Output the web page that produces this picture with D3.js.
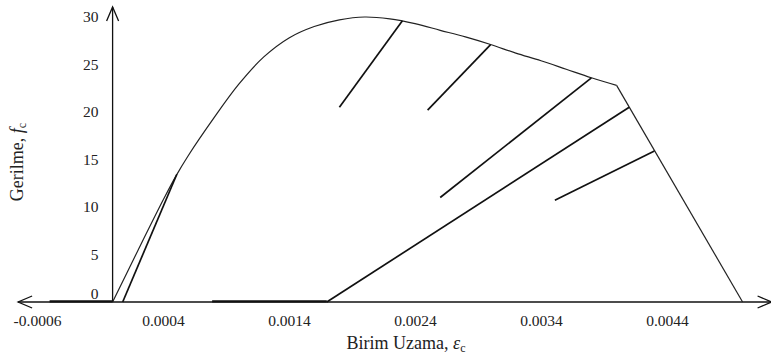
<!DOCTYPE html>
<html>
<head>
<meta charset="utf-8">
<script src="https://cdn.jsdelivr.net/npm/d3@7/dist/d3.min.js"></script>
<style>
  body { margin: 0; background: #fff; }
  svg text { font-family: "Liberation Serif", "Times New Roman", serif; fill: #222; }
</style>
</head>
<body>
<div id="chart"></div>
<script>
// envelope curve (strain, stress)
var envelope = [
    [0, 0], [0.0002, 5.4], [0.0004, 10.7], [0.0005, 13.2], [0.0006, 15.4],
    [0.0008, 19.3], [0.001, 22.9], [0.0012, 25.8], [0.0014, 27.8], [0.0016, 29.0],
    [0.0018, 29.7], [0.002, 30.0], [0.0022, 29.8], [0.0024, 29.3], [0.0026, 28.6],
    [0.0028, 27.9], [0.003, 27.1], [0.0032, 26.2], [0.0034, 25.4], [0.0036, 24.5],
    [0.0038, 23.6], [0.004, 22.8]
];
var descending = [[0.004, 22.8], [0.005, 0]];

// unloading / reloading branches
var branches = [
    [[0.00051, 13.45], [0.00008, 0]],
    [[0.0023, 29.6], [0.0018, 20.5]],
    [[0.003, 27.1], [0.0025, 20.2]],
    [[0.0038, 23.6], [0.0026, 11.0]],
    [[0.0043, 15.9], [0.00351, 10.7]],
    [[0.0017, 0], [0.0041, 20.5]]
];
// segments lying on the zero-stress line (drawn heavier)
var flatSegments = [
    [[-0.0005, 0], [0, 0]],
    [[0.00079, 0], [0.0017, 0]]
];

var xTicks = [-0.0006, 0.0004, 0.0014, 0.0024, 0.0034, 0.0044];
var yTicks = [0, 5, 10, 15, 20, 25, 30];
var xAxisLimits = [-0.00075, 0.00523];
var yAxisTop = 31.05;

var width = 771;
var height = 355;

var svg = d3.select("#chart").append("svg")
    .attr("width", width)
    .attr("height", height);

var x = d3.scaleLinear().domain([-0.0006, 0.0044]).range([37, 667]);
var y = d3.scaleLinear().domain([0, 30]).range([302, 17]);

// axes lines with open arrow heads
svg.append("line")
    .attr("x1", x(xAxisLimits[0])).attr("x2", x(xAxisLimits[1]))
    .attr("y1", y(0)).attr("y2", y(0))
    .attr("stroke", "#111").attr("stroke-width", 1.3);
svg.append("line")
    .attr("x1", x(0)).attr("x2", x(0))
    .attr("y1", y(0)).attr("y2", y(yAxisTop))
    .attr("stroke", "#111").attr("stroke-width", 1.3);

function arrow(tx, ty, dx, dy) {
    // dx, dy: direction of the arm from the tip
    var px = -dy, py = dx;
    return "M" + (tx + dx * 14 + px * 6) + "," + (ty + dy * 14 + py * 6) +
        "L" + tx + "," + ty +
        "L" + (tx + dx * 14 - px * 6) + "," + (ty + dy * 14 - py * 6);
}
var arrows = svg.append("g").attr("fill", "none").attr("stroke", "#111").attr("stroke-width", 1.3);
arrows.append("path").attr("d", arrow(x(xAxisLimits[0]), y(0), 1, 0));
arrows.append("path").attr("d", arrow(x(xAxisLimits[1]), y(0), -1, 0));
arrows.append("path").attr("d", arrow(x(0), y(yAxisTop), 0, 1));

// tick labels
var xAxis = svg.append("g")
    .attr("transform", "translate(0," + y(0) + ")")
    .call(d3.axisBottom(x).tickValues(xTicks).tickSize(0).tickPadding(13)
        .tickFormat(function (d) { return d3.format(".4f")(d).replace("\u2212", "-"); }));
xAxis.select(".domain").remove();
xAxis.selectAll("text").style("font-size", "15.5px").style("fill", "#222");

var yAxis = svg.append("g")
    .attr("transform", "translate(" + x(0) + ",0)")
    .call(d3.axisLeft(y).tickValues(yTicks).tickSize(0).tickPadding(14));
yAxis.select(".domain").remove();
yAxis.selectAll("text").style("font-size", "15.5px").style("fill", "#222");
yAxis.selectAll(".tick").filter(function (d) { return d === 0; })
    .select("text").attr("dy", "-0.21em");

var line = d3.line()
    .x(function (d) { return x(d[0]); })
    .y(function (d) { return y(d[1]); });

// envelope
svg.append("path")
    .datum(envelope)
    .attr("fill", "none").attr("stroke", "#222").attr("stroke-width", 1.2)
    .attr("d", line.curve(d3.curveCatmullRom));
svg.append("path")
    .datum(descending)
    .attr("fill", "none").attr("stroke", "#222").attr("stroke-width", 1.2)
    .attr("d", line.curve(d3.curveLinear));

// branches
svg.selectAll(".branch")
    .data(branches)
    .enter().append("path")
    .attr("class", "branch")
    .attr("fill", "none").attr("stroke", "#111").attr("stroke-width", 1.7)
    .attr("d", line);

svg.selectAll(".flat")
    .data(flatSegments)
    .enter().append("path")
    .attr("class", "flat")
    .attr("fill", "none").attr("stroke", "#111").attr("stroke-width", 2.2)
    .attr("transform", "translate(0,-0.6)")
    .attr("d", line);

// axis titles
var xt = svg.append("text")
    .attr("x", 406).attr("y", 349)
    .attr("text-anchor", "middle")
    .style("font-size", "18px");
xt.append("tspan").text("Birim Uzama, ");
xt.append("tspan").style("font-style", "italic").text("\u03b5");
xt.append("tspan").attr("dy", 3).style("font-size", "12px").text("c");

var yt = svg.append("text")
    .attr("transform", "translate(23,162) rotate(-90)")
    .attr("text-anchor", "middle")
    .style("font-size", "18px");
yt.append("tspan").text("Gerilme, ");
yt.append("tspan").style("font-style", "italic").text("f");
yt.append("tspan").attr("dy", 3).style("font-size", "12px").text("c");
</script>
</body>
</html>
